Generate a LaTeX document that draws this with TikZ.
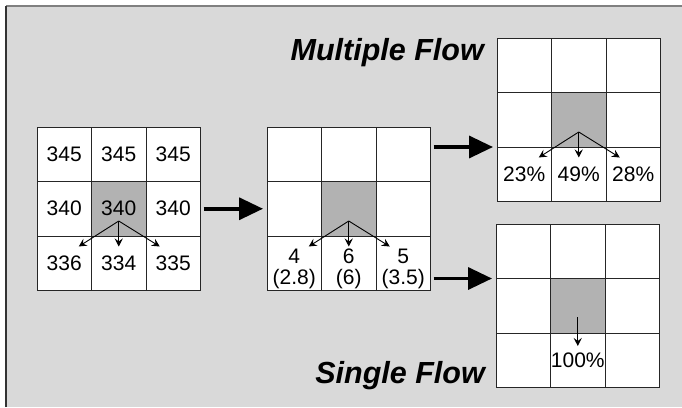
\documentclass[tikz,border=0pt]{standalone}
\usepackage{fontspec}
\setmainfont{Liberation Sans}
\usetikzlibrary{arrows.meta}
\definecolor{panelgray}{gray}{0.85}
\definecolor{cellgray}{gray}{0.70}

\begin{document}
\begin{tikzpicture}[x=1pt,y=-1pt,
  cell/.style={draw=black!85,line width=0.8pt,minimum size=54.5pt,inner sep=0pt,outer sep=0pt},
  num/.style={font=\fontsize{21}{21}\selectfont,inner sep=0pt},
  flowtitle/.style={font=\fontsize{30.5}{31}\selectfont\bfseries\itshape,inner sep=0pt},
  bigarrow/.style={line width=3.5pt,-{Triangle[length=24pt,width=22pt]},shorten <=3pt,shorten >=4pt},
  flowarrow/.style={line width=0.9pt,-{Stealth[length=8pt,width=8pt,inset=3pt]}}]
\useasboundingbox (0,0) rectangle (682,407);
\fill[panelgray] (6,6) rectangle (682,407);
\draw[black!50,line width=1.2pt] (6,6) -- (682,6);
\draw[black!80,line width=1.2pt] (6,407) -- (6,6);

% the four 3x3 grids
\foreach \g/\x/\y in {a/37/127,b/267/127,m/497/38,s/496/224}{
  \foreach \r in {1,2,3}{
    \foreach \c in {1,2,3}{
      \ifnum\r\c=22 \def\cellfill{cellgray}\else\def\cellfill{white}\fi
      \node[cell,fill=\cellfill] (\g\r\c) at (\x+54.5*\c-27.25,\y+54.5*\r-27.25) {};
    }
  }
}

% elevations
\foreach \n/\t in {11/345,12/345,13/345,21/340,22/340,23/340,31/336,32/334,33/335}
  \node[num] (t\n) at (a\n) {\t};
\node[num,align=center,yshift=-5.5pt] (u31) at (b31) {4\\(2.8)};
\node[num,align=center,yshift=-5.5pt] (u32) at (b32) {6\\(6)};
\node[num,align=center,yshift=-5.5pt] (u33) at (b33) {5\\(3.5)};
\node[num] (p31) at (m31) {23\%};
\node[num] (p32) at (m32) {49\%};
\node[num] (p33) at (m33) {28\%};
\node[num] (p100) at (s32) {100\%};

% flow directions
\foreach \g in {a,b,m}{
  \coordinate (\g-top) at ([yshift=15pt]\g22.south);
  \coordinate (\g-left) at ([xshift=14.5pt,yshift=-10.5pt]\g31.north);
  \coordinate (\g-mid) at ([yshift=-10.5pt]\g32.north);
  \coordinate (\g-right) at ([xshift=-13.5pt,yshift=-10.5pt]\g33.north);
  \draw[flowarrow] (\g-top) -- (\g-left);
  \draw[flowarrow] (\g-top) -- (\g-mid);
  \draw[flowarrow] (\g-top) -- (\g-right);
}
\coordinate (s-top) at ([yshift=16pt]s22.south);
\coordinate (s-tip) at ([yshift=-13pt]s32.north);
\draw[flowarrow] (s-top) -- (s-tip);

\draw[bigarrow] (a23.east) -- (b21.west);
\draw[bigarrow] (b13.east |- m21.south west) -- (m21.south west);
\draw[bigarrow] (b33.east |- s21.north west) -- (s21.north west);

\node[flowtitle,anchor=base east] (multi) at (484,60) {Multiple Flow};
\node[flowtitle,anchor=base east] (single) at (485,383) {Single Flow};

\end{tikzpicture}
\end{document}
